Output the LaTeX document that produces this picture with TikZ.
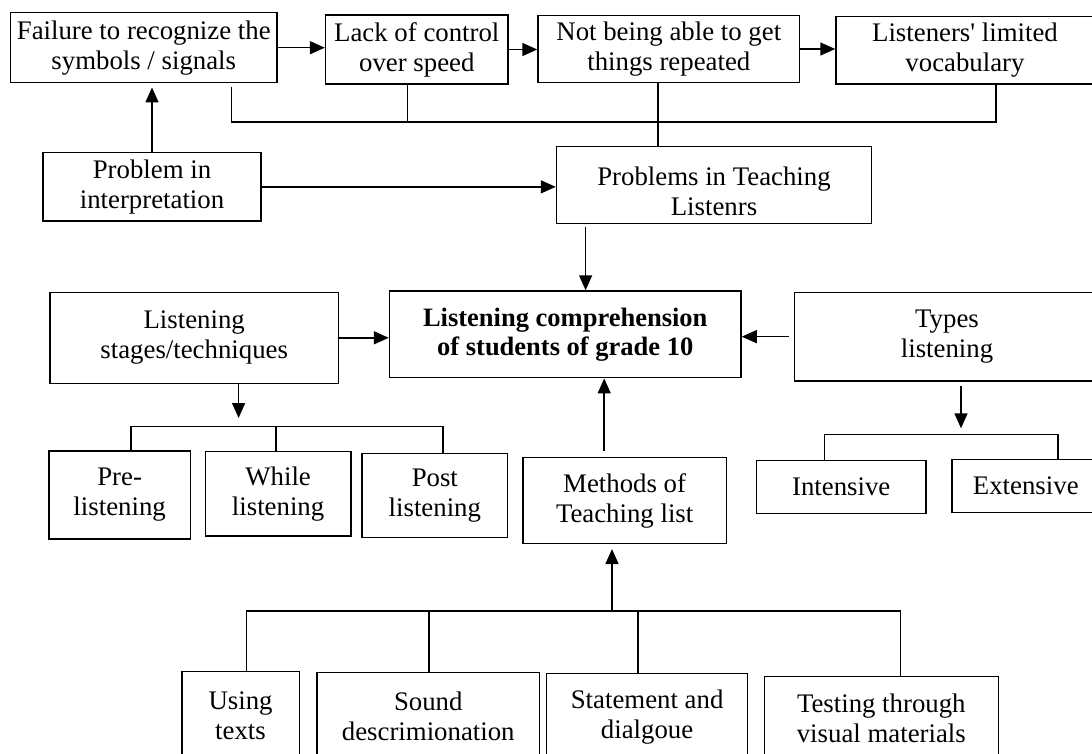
\documentclass[tikz,border=0pt]{standalone}
\usepackage{fontspec}
\setmainfont{Liberation Serif}
\usetikzlibrary{arrows.meta,calc}
\begin{document}
\begin{tikzpicture}[x=1pt,y=-1pt,
  bx/.style={draw, line width=1.5pt, inner sep=0pt, align=center, font=\fontsize{26.8}{30}\selectfont},
  ln/.style={line width=1.5pt},
  arr/.style={ln, -{Triangle[length=15pt,width=13pt]}}]
\useasboundingbox (0,0) rectangle (1092,753);
\clip (0,0) rectangle (1092,753);
\fill[white] (0,0) rectangle (1092,753);
% boxes
\node[bx, minimum width=266.5pt, minimum height=70pt] (fail) at (143.75,47.7) {Failure to recognize the\\symbols / signals};
\node[bx, minimum width=182.4pt, minimum height=69pt] (lack) at (416.8,49.5) {Lack of control\\over speed};
\node[bx, minimum width=261.6pt, minimum height=66.6pt] (notb) at (668.8,49) {Not being able to get\\things repeated};
\node[bx, minimum width=258pt, minimum height=67.3pt] (lisv) at (965,50.35) {Listeners\textquotesingle\ limited\\vocabulary};
\node[bx, minimum width=218pt, minimum height=68.3pt] (pint) at (152,186.85) {Problem in\\interpretation};
\node[bx, minimum width=315pt, minimum height=76.6pt] (prob) at (714,185) {\rule{0pt}{31pt}Problems in Teaching\\Listenrs};
\node[bx, minimum width=288.8pt, minimum height=91pt] (lst) at (194.2,337.8) {Listening\\stages/techniques};
\node[bx, minimum width=351.5pt, minimum height=86.7pt, font=\fontsize{26.5}{29}\selectfont\bfseries] (lc) at (565.25,334.35) {Listening comprehension\\of students of grade 10};
\node[bx, minimum width=305.2pt, minimum height=88.7pt] (types) at (947,336.65) {Types\\listening};
\node[bx, minimum width=141.7pt, minimum height=88pt] (pre) at (119.65,495) {Pre-\\listening};
\node[bx, minimum width=145.6pt, minimum height=84.3pt] (while) at (278.1,493.85) {While\\listening};
\node[bx, minimum width=145.7pt, minimum height=84.4pt] (post) at (434.85,495.5) {Post\\listening};
\node[bx, minimum width=203.7pt, minimum height=85.6pt] (meth) at (624.65,500.5) {Methods of\\Teaching list};
\node[bx, minimum width=169.5pt, minimum height=53pt] (inten) at (841.25,487.2) {Intensive};
\node[bx, minimum width=147.6pt, minimum height=53pt] (exten) at (1025.8,486.2) {Extensive};
\node[bx, minimum width=117.5pt, minimum height=88.5pt] (using) at (240.55,715.75) {Using\\texts};
\node[bx, minimum width=222.5pt, minimum height=87.5pt] (sound) at (428.25,716.25) {Sound\\descrimionation};
\node[bx, minimum width=201.2pt, minimum height=86.7pt] (stat) at (647.1,716.65) {Statement and\\dialgoue};
\node[bx, minimum width=234pt, minimum height=83.3pt] (test) at (881.3,718.35) {Testing through\\visual materials};
% top row arrows
\draw[arr] (fail.east) -- (fail.east -| lack.west);
\draw[arr] (lack.east) -- (lack.east -| notb.west);
\draw[arr] (notb.east) -- (notb.east -| lisv.west);
\draw[arr] (pint.north) -- ([yshift=-4pt]pint.north |- fail.south);
% bus under top row
\coordinate (bL) at (231.6,122);
\coordinate (bK) at (407.7,122);
\coordinate (bN) at (658,122);
\coordinate (bR) at (996,122);
\draw[ln] ([yshift=-4pt]fail.south -| bL) -- (bL) -- (bR) -- (lisv.south -| bR);
\draw[ln] (lack.south -| bK) -- (bK);
\draw[ln] (notb.south -| bN) -- (prob.north -| bN);
\draw[arr] (pint.east) -- (pint.east -| prob.west);
% into central box
\coordinate (pA) at (585.6,0);
\draw[arr] ([yshift=-3pt]prob.south -| pA) -- (lc.north -| pA);
\draw[arr] (lst.east) -- (lst.east -| lc.west);
\draw[arr] ([xshift=-5pt]types.west) -- (types.west -| lc.east);
\coordinate (mA) at (604.2,450.7);
\draw[arr] (mA) -- (mA |- lc.south);
% stages
\coordinate (lA) at (238.6,418);
\draw[arr] (lst.south -| lA) -- (lA);
\coordinate (s1) at (130.9,426.7);
\coordinate (s2) at (275.8,426.7);
\coordinate (s3) at (443.2,426.7);
\draw[ln] (pre.north -| s1) -- (s1) -- (s3) -- (post.north -| s3);
\draw[ln] (s2) -- (while.north -| s2);
% types
\coordinate (tA) at (961,428.3);
\draw[arr] ([yshift=-4.7pt]types.south -| tA) -- (tA);
\coordinate (t1) at (824.3,434.3);
\coordinate (t2) at (1058.2,434.3);
\draw[ln] (inten.north -| t1) -- (t1) -- (t2) -- (exten.north -| t2);
% methods
\coordinate (m1) at (246.7,611);
\coordinate (m2) at (429,611);
\coordinate (mc) at (612,611);
\coordinate (m3) at (638.2,611);
\coordinate (m4) at (900.7,611);
\draw[ln] (using.north -| m1) -- (m1) -- (m4) -- (test.north -| m4);
\draw[ln] (m2) -- (sound.north -| m2);
\draw[ln] (m3) -- (stat.north -| m3);
\draw[arr] (mc) -- ([yshift=-5pt]meth.south -| mc);
\end{tikzpicture}
\end{document}
